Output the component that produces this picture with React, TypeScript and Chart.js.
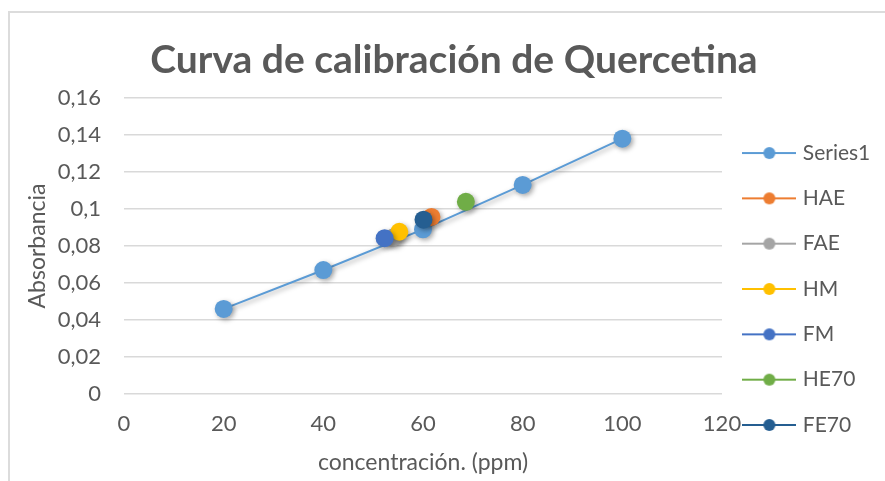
import React, { useEffect, useRef } from "react";
import { Chart, registerables } from "chart.js";

Chart.register(...registerables);

const TITLE = "Curva de calibración de Quercetina";
const X_TITLE = "concentración. (ppm)";
const Y_TITLE = "Absorbancia";

const SERIES_NAMES = ["Series1", "HAE", "FAE", "HM", "FM", "HE70", "FE70"];
const SERIES_COLORS = ["#5B9BD5", "#ED7D31", "#A5A5A5", "#FFC000", "#4472C4", "#70AD47", "#255E91"];

const CAL_X = [20, 40, 60, 80, 100];
const CAL_Y = [0.046, 0.067, 0.089, 0.113, 0.138];

const SAMPLE_X = [61.7, 54.0, 55.25, 52.3, 68.6, 60.1];
const SAMPLE_Y = [0.0957, 0.0846, 0.0877, 0.0842, 0.1039, 0.0942];

const X_TICKS = [0, 20, 40, 60, 80, 100, 120];
const X_TICK_LABELS = ["0", "20", "40", "60", "80", "100", "120"];
const Y_TICKS = [0, 0.02, 0.04, 0.06, 0.08, 0.1, 0.12, 0.14, 0.16];
const Y_TICK_LABELS = ["0", "0,02", "0,04", "0,06", "0,08", "0,1", "0,12", "0,14", "0,16"];

const FONT = "Lato, 'Open Sans', sans-serif";
const TEXT = "#595959";

function legendIcon(color: string): HTMLCanvasElement {
  const c = document.createElement("canvas");
  c.width = 54;
  c.height = 14;
  const g = c.getContext("2d")!;
  g.strokeStyle = color;
  g.lineWidth = 2;
  g.beginPath();
  g.moveTo(0, 7);
  g.lineTo(54, 7);
  g.stroke();
  g.fillStyle = color;
  g.beginPath();
  g.arc(27, 7, 6, 0, Math.PI * 2);
  g.fill();
  return c;
}

export default function App() {
  const ref = useRef<HTMLCanvasElement>(null);

  useEffect(() => {
    if (!ref.current) return;
    const icons = SERIES_COLORS.map(legendIcon);

    const datasets: any[] = [
      {
        label: SERIES_NAMES[0],
        data: CAL_X.map((x, i) => ({ x, y: CAL_Y[i] })),
        showLine: true,
        borderColor: SERIES_COLORS[0],
        backgroundColor: SERIES_COLORS[0],
        borderWidth: 2,
        pointRadius: 9,
        pointBorderWidth: 0,
        order: 6,
      },
      ...SAMPLE_X.map((x, i) => ({
        label: SERIES_NAMES[i + 1],
        data: [{ x, y: SAMPLE_Y[i] }],
        showLine: false,
        borderColor: SERIES_COLORS[i + 1],
        backgroundColor: SERIES_COLORS[i + 1],
        borderWidth: 2,
        pointRadius: 9,
        pointBorderWidth: 0,
        order: 5 - i,
      })),
    ];

    const shadow = {
      id: "shadow",
      beforeDatasetsDraw(chart: any) {
        const ctx = chart.ctx;
        ctx.save();
        ctx.shadowColor = "rgba(0,0,0,0.35)";
        ctx.shadowBlur = 5;
        ctx.shadowOffsetX = 2;
        ctx.shadowOffsetY = 2;
      },
      afterDatasetsDraw(chart: any) {
        chart.ctx.restore();
      },
    };

    const legendWidth = {
      id: "legendWidth",
      afterInit(chart: any) {
        const lg = chart.legend;
        if (!lg) return;
        const fit = lg.fit.bind(lg);
        lg.fit = () => {
          fit();
          lg.width = 163;
        };
      },
    };

    const chart = new Chart(ref.current, {
      type: "scatter",
      data: { datasets },
      plugins: [shadow, legendWidth],
      options: {
        responsive: false,
        animation: false,
        devicePixelRatio: 1,
        layout: { padding: { left: 23, right: 0, top: 0, bottom: 0 } },
        plugins: {
          tooltip: { enabled: false },
          title: {
            display: true,
            text: TITLE,
            color: TEXT,
            font: { family: FONT, size: 39, weight: "bold", lineHeight: 1.2 },
            padding: { top: 36.6, bottom: 14.6 },
          },
          legend: {
            display: true,
            position: "right",
            align: "center",
            title: { display: true, text: "", font: { size: 10, lineHeight: 1 }, padding: { top: 87, bottom: 0 } },
            labels: {
              color: TEXT,
              font: { family: FONT, size: 21 },
              usePointStyle: true,
              pointStyleWidth: 46,
              padding: 24.33,
              sort: (a: any, b: any) => a.datasetIndex - b.datasetIndex,
              generateLabels: () =>
                SERIES_NAMES.map((name, i) => ({
                  text: name,
                  fillStyle: SERIES_COLORS[i],
                  strokeStyle: SERIES_COLORS[i],
                  lineWidth: 0,
                  pointStyle: icons[i],
                  hidden: false,
                  datasetIndex: i,
                  fontColor: TEXT,
                })),
            },
          },
        },
        scales: {
          x: {
            type: "linear",
            min: 0,
            max: 120,
            afterBuildTicks: (s: any) => {
              s.ticks = X_TICKS.map((v) => ({ value: v }));
            },
            afterFit: (s: any) => {
              s.height = 87;
            },
            ticks: {
              color: TEXT,
              font: { family: FONT, size: 22 },
              padding: 16.8,
              callback: (v: any) => X_TICK_LABELS[X_TICKS.indexOf(Number(v))] ?? "",
              maxRotation: 0,
            },
            grid: { display: false, drawTicks: false },
            border: { display: false },
            title: {
              display: true,
              text: X_TITLE,
              color: TEXT,
              font: { family: FONT, size: 23, lineHeight: 1.2 },
              padding: { top: 0, bottom: 4.2 },
            },
          },
          y: {
            type: "linear",
            min: 0,
            max: 0.16,
            afterBuildTicks: (s: any) => {
              s.ticks = Y_TICKS.map((v) => ({ value: v }));
            },
            afterFit: (s: any) => {
              s.width = 101;
            },
            ticks: {
              color: TEXT,
              font: { family: FONT, size: 22 },
              padding: 23,
              callback: (v: any, i: number) => Y_TICK_LABELS[i] ?? "",
            },
            grid: { color: "#d9d9d9", lineWidth: 1.5, drawTicks: false },
            border: { display: false },
            title: {
              display: true,
              text: Y_TITLE,
              color: TEXT,
              font: { family: FONT, size: 23, lineHeight: 1.2 },
              padding: { top: 1.2, bottom: 0 },
            },
          },
        },
      },
    });

    return () => chart.destroy();
  }, []);

  return (
    <div style={{ position: "absolute", left: 0, top: 0, width: 885, height: 481, overflow: "hidden", background: "#fff" }}>
      <div
        style={{
          position: "absolute",
          left: 8,
          top: 11,
          width: 900,
          height: 500,
          borderLeft: "2px solid #dcdcdc",
          borderTop: "2px solid #dcdcdc",
        }}
      />
      <canvas ref={ref} width={885} height={481} style={{ position: "absolute", left: 0, top: 0, display: "block" }} />
    </div>
  );
}
